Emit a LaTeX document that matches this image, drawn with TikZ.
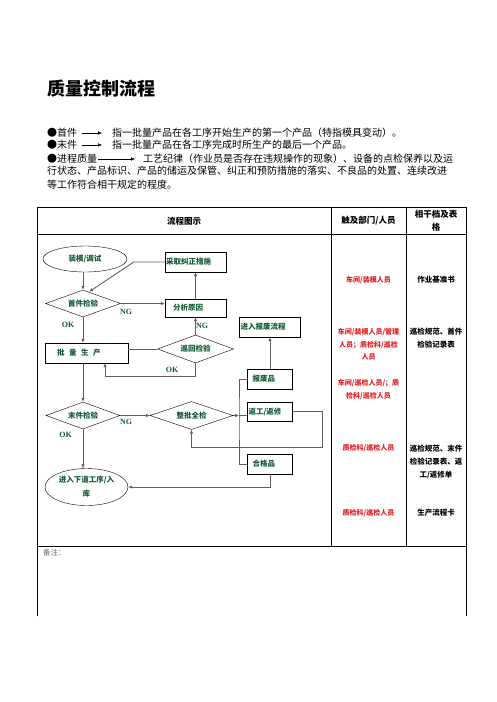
\documentclass[tikz,border=0pt]{standalone}
\usepackage{fontspec}
\setmainfont{Noto Sans CJK SC}
\newfontfamily\latinfont{Liberation Serif}
\usetikzlibrary{shapes.geometric,arrows.meta}
\definecolor{flowgreen}{RGB}{20,90,55}
\definecolor{dutyred}{RGB}{230,25,30}
\definecolor{wire}{RGB}{95,95,95}

\begin{document}
\begin{tikzpicture}[x=1pt,y=-1pt,>={Latex[length=4pt,width=3.5pt]}]
        \useasboundingbox (0,0) rectangle (496,702);
        \begin{scope}[every node/.style={anchor=west,inner sep=0pt,font=\fontsize{10}{12}\selectfont}]
            \node[font=\fontsize{18}{20}\selectfont\bfseries] (T) at (47,89) {质量控制流程};
            \node (B1) at (47,133) {●首件};
            \node (D1) at (112,133) {指一批量产品在各工序开始生产的第一个产品（特指模具变动）。};
            \node (B2) at (47,145) {●末件};
            \node (D2) at (112,145) {指一批量产品在各工序完成时所生产的最后一个产品。};
            \node (B3) at (47,159) {●进程质量};
            \node (D3) at (143,159) {工艺纪律（作业员是否存在违规操作的现象）、设备的点检保养以及运};
            \node (D4) at (47,171) {行状态、产品标识、产品的储运及保管、纠正和预防措施的落实、不良品的处置、连续改进};
            \node (D5) at (47,185) {等工作符合相干规定的程度。};
        \end{scope}
        \begin{scope}[every edge/.style={draw, thin}]
            \path [->] (B1) edge[shorten <=5pt, shorten >=10pt] (D1);
            \path [->] (B2) edge[shorten <=5pt, shorten >=10pt] (D2);
            \path [->] (B3) edge[shorten <=1pt, shorten >=8pt] (D3);
        \end{scope}
        % table
        \begin{scope}[line width=0.9pt]
            \draw (37,616) -- (37,207) -- (466,207) -- (466,616);
            \draw (37,234) -- (466,234);
            \draw (37,546) -- (466,546);
            \draw (331,207) -- (331,546);
            \draw (406,207) -- (406,546);
        \end{scope}
        \begin{scope}[every node/.style={inner sep=0pt,align=center,font=\fontsize{8.5}{13}\selectfont\bfseries}]
            \node (H1) at (184,221) {流程图示};
            \node (H2) at (368.5,221) {触及部门/人员};
            \node (H3) at (436,220.5) {相干档及表\\格};
        \end{scope}
        \node[anchor=west,inner sep=0pt,text=black!60,font=\fontsize{7.5}{9}\selectfont] (RM) at (43,553) {备注：};
        % flow chart
        \begin{scope}[every node/.style={draw,inner sep=0pt,text=flowgreen,font=\fontsize{7.5}{9}\selectfont\bfseries}]
            \node[ellipse,minimum width=84,minimum height=26] (ZM) at (85,259) {装模/调试};
            \node[minimum width=61,minimum height=20,text width=59,align=left] (CQ) at (195.5,262) {采取纠正措施};
            \node[diamond,aspect=2.8,minimum width=75,minimum height=27] (SJ) at (83,303.5) {首件检验};
            \node[minimum width=61,minimum height=18,text width=45,align=left] (FX) at (195.5,308) {分析原因};
            \node[minimum width=83,minimum height=20,text width=59,align=left] (PL) at (86.5,353) {批\hspace{4.5pt}量\hspace{4.5pt}生\hspace{4.5pt}产};
            \node[diamond,aspect=2.8,minimum width=76,minimum height=28] (XJ) at (195.5,349) {巡回检验};
            \node[minimum width=61,minimum height=20,text width=59,align=left] (BF) at (270,327) {进入报废流程};
            \node[minimum width=45,minimum height=20,text width=35,align=left] (FP) at (270,379) {报废品};
            \node[diamond,aspect=2.8,minimum width=74,minimum height=27] (MJ) at (83,415.5) {末件检验};
            \node[diamond,aspect=2.8,minimum width=83,minimum height=28] (ZJ) at (191.5,415.5) {整批全检};
            \node[minimum width=45,minimum height=19,text width=43,align=left] (FG) at (270,411.5) {返工/返修};
            \node[minimum width=45,minimum height=20,text width=35,align=left] (HG) at (270,464) {合格品};
            \node[ellipse,minimum width=83,minimum height=37,align=center,font=\fontsize{7.5}{14}\selectfont\bfseries] (XD) at (86.5,487) {进入下道工序/入\\库};
        \end{scope}
        \begin{scope}[every node/.style={inner sep=0pt,text=flowgreen,font=\fontsize{8}{9}\latinfont\bfseries}]
            \node (ng1) at (126,312) {NG};
            \node (ok1) at (68,325) {OK};
            \node (ng2) at (202,326) {NG};
            \node (ok2) at (172,370) {OK};
            \node (ng3) at (126,422) {NG};
            \node (ok3) at (65.5,435) {OK};
        \end{scope}
        \coordinate (bus) at (239,415.5);
        \coordinate (rw) at (322,447);
        \begin{scope}[draw=wire, line width=0.9pt, every edge/.style={draw=wire, line width=0.9pt}]
            \path [->] (FX) edge (CQ);
            \path [->] (XJ) edge (FX);
            \path [->] (FP) edge (BF);
            \path [->] (MJ) edge (ZJ);
            \path [->] (ZJ.east) edge (bus);
            \draw [->] (ZM.south -| SJ.north) -- (SJ.north);
            \draw [->] (CQ.west) -- ++(-31,0) -- ([xshift=6pt,yshift=-2pt]SJ.north);
            \draw [->] (SJ.east) -- (SJ.east -| FX.west);
            \draw [->] (SJ.south) -- (SJ.south |- PL.north);
            \draw (XJ.west) -- (XJ.west -| PL.east);
            \draw [->] (XJ.south) -- ++(0,13) -| ([xshift=18.5pt]PL.south);
            \draw [->] (PL.south -| MJ.north) -- (MJ.north);
            \draw [->] (MJ.south) -- (MJ.south |- XD.north);
            \draw (FP.west) -| (bus) |- (HG.west);
            \draw (bus) -- (bus -| FG.west);
            \draw [->] (FG.east) -| (rw) -| (ZJ.south);
            \draw [->] (HG.south) |- (XD.east);
        \end{scope}
        \begin{scope}[every node/.style={inner sep=0pt,align=center,text=dutyred,font=\fontsize{7}{12.5}\selectfont\bfseries}]
            \node (R1) at (368.5,280) {车间/装模人员};
            \node (R2) at (368.5,344.5) {车间/装模人员/管理\\人员；质检科/巡检\\人员};
            \node (R3) at (368.5,389.5) {车间/巡检人员/；质\\检科/巡检人员};
            \node (R4) at (368.5,448) {质检科/巡检人员};
            \node (R5) at (368.5,513) {质检科/巡检人员};
        \end{scope}
        \begin{scope}[every node/.style={inner sep=0pt,align=center,font=\fontsize{7.5}{13}\selectfont\bfseries}]
            \node (F1) at (436,280) {作业基准书};
            \node (F2) at (436,338.5) {巡检规范、首件\\检验记录表};
            \node (F3) at (436,462) {巡检规范、末件\\检验记录表、返\\工/返修单};
            \node (F4) at (436,513) {生产流程卡};
        \end{scope}
    \end{tikzpicture}
\end{document}
